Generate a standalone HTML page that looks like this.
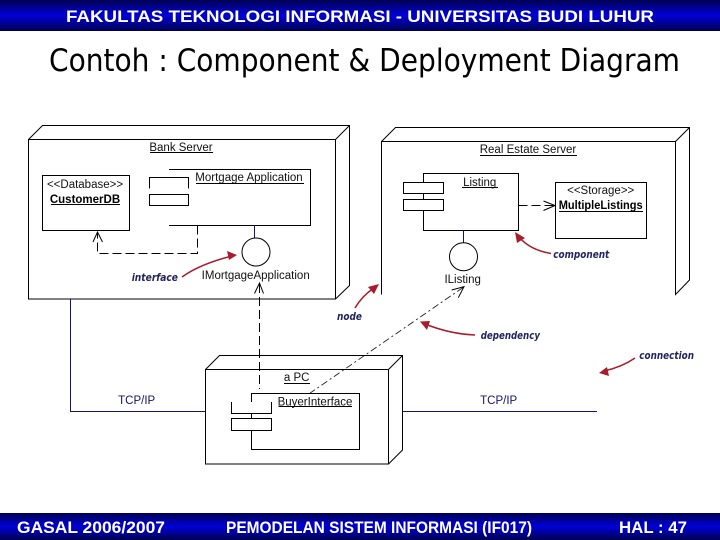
<!DOCTYPE html>
<html>
<head>
<meta charset="utf-8">
<style>
html,body{margin:0;padding:0;background:#fff;width:720px;height:540px;overflow:hidden}
svg{display:block}
.d{fill:none;stroke:#000;stroke-width:1}
.dash{fill:none;stroke:#000;stroke-width:1;stroke-dasharray:9 4}
.dash2{fill:none;stroke:#222;stroke-width:.9;stroke-dasharray:7 3 2 3}
.nv{fill:none;stroke:#14146e;stroke-width:1}
.t{font-family:"Liberation Sans",sans-serif;font-size:11.5px;fill:#111;text-anchor:middle}
.b{font-family:"Liberation Sans",sans-serif;font-size:11.5px;font-weight:bold;fill:#000;text-anchor:middle}
.c{font-family:"DejaVu Sans","Liberation Sans",sans-serif;font-size:10.5px;font-style:italic;font-weight:bold;fill:#23235f}
.r{fill:none;stroke:#a81c2c;stroke-width:1.5}
.h{font-family:"Liberation Sans",sans-serif;font-weight:bold;fill:#fff;font-size:16.5px}
</style>
</head>
<body>
<svg width="720" height="540" viewBox="0 0 720 540" xmlns="http://www.w3.org/2000/svg">
<defs>
<linearGradient id="g" x1="0" y1="0" x2="0" y2="1">
<stop offset="0" stop-color="#000050"/>
<stop offset=".5" stop-color="#0000d8"/>
<stop offset="1" stop-color="#000050"/>
</linearGradient>
</defs>
<rect x="0" y="0" width="720" height="31" fill="url(#g)"/>
<rect x="0" y="513" width="720" height="27" fill="url(#g)"/>
<text class="h" x="66" y="22" textLength="588" lengthAdjust="spacingAndGlyphs">FAKULTAS TEKNOLOGI INFORMASI - UNIVERSITAS BUDI LUHUR</text>
<text class="h" x="17" y="533" textLength="148" lengthAdjust="spacingAndGlyphs">GASAL 2006/2007</text>
<text class="h" x="226" y="533" textLength="306" lengthAdjust="spacingAndGlyphs">PEMODELAN SISTEM INFORMASI (IF017)</text>
<text class="h" x="619" y="533" textLength="68" lengthAdjust="spacingAndGlyphs">HAL : 47</text>
<text x="49" y="71" font-family="'DejaVu Sans','Liberation Sans',sans-serif" font-size="31" fill="#000" textLength="631" lengthAdjust="spacingAndGlyphs">Contoh : Component &amp; Deployment Diagram</text>

<!-- Bank Server -->
<rect class="d" x="28.5" y="139.5" width="307" height="159.5"/>
<path class="d" d="M28.5 139.5L42.5 125.5H349.5V285.5L335.5 299M335.5 139.5L349.5 125.5"/>
<text class="t" x="181" y="151">Bank Server</text>
<path class="d" d="M150 152.5H213"/>
<rect class="d" x="42.5" y="175.5" width="87" height="55"/>
<text class="t" x="85" y="188">&lt;&lt;Database&gt;&gt;</text>
<text class="b" x="85" y="203">CustomerDB</text>
<path class="d" d="M51 204.5H120"/>
<path class="d" d="M169 169.5H310.5V225.5H169"/>
<path class="d" d="M149.5 188.5V177.500H188.500V188.5"/>
<rect class="d" x="149.500" y="194.500" width="39" height="11"/>
<text class="t" x="249" y="181">Mortgage Application</text>
<path class="d" d="M196 183.500H304"/>
<path class="dash" d="M197.500 225.500V253.500H97.500V233"/>
<path class="d" d="M93 242L97.500 232L102.500 242"/>
<path class="nv" d="M254.500 225.500V238"/>
<circle class="d" cx="256" cy="252" r="14"/>
<text class="t" x="255.700" y="279">IMortgageApplication</text>
<path class="dash" d="M259.500 284V389"/>
<path class="d" d="M254.500 293.500L259.500 283L263.500 293.500"/>

<!-- connections -->
<path class="nv" d="M70.500 299V411.500H205.500"/>
<path class="nv" d="M403 411.500H597"/>
<text x="136.700" y="404" class="t" style="fill:#14146e">TCP/IP</text>
<text x="498.700" y="404" class="t" style="fill:#14146e">TCP/IP</text>

<!-- Real Estate -->
<path class="d" d="M381.500 294.500V141.500H675.500V294.500L689.500 280V127.500H395.500L381.500 141.500M675.500 141.500L689.500 127.500"/>
<text class="t" x="528" y="153">Real Estate Server</text>
<path class="d" d="M480 155.500H577"/>
<rect class="d" x="423.500" y="173.500" width="95" height="57"/>
<rect x="403.500" y="182.500" width="40" height="11" fill="#fff" stroke="#000"/>
<rect x="403.500" y="199.500" width="40" height="11" fill="#fff" stroke="#000"/>
<text class="t" x="479.700" y="186">Listing</text>
<path class="d" d="M462 187.500H498"/>
<rect class="d" x="555.500" y="182.500" width="91" height="56"/>
<text class="t" x="600.700" y="194">&lt;&lt;Storage&gt;&gt;</text>
<text class="b" x="600.700" y="209" textLength="84" lengthAdjust="spacingAndGlyphs">MultipleListings</text>
<path class="d" d="M559 211.500H643"/>
<path class="dash" d="M518.500 205.500H554"/>
<path class="d" d="M543.500 201L555 205.500L543.500 210.500"/>
<path class="nv" d="M463.500 230.500V243"/>
<circle class="d" cx="463.500" cy="256.700" r="14"/>
<text class="t" x="462.700" y="283">IListing</text>
<path class="dash2" d="M463 287.500L309.500 393.500"/>
<path class="d" d="M451.700 290L464 286.700L458.300 297.700"/>

<!-- PC -->
<rect class="d" x="205.500" y="369.500" width="183" height="94.500"/>
<path class="d" d="M205.500 369.500L219.500 355.500H402.500V411.500M388.500 369.500L402.500 355.500M388.500 464L402.500 450V411.500"/>
<text class="t" x="296.700" y="381">a PC</text>
<path class="d" d="M284 383.500H310"/>
<path class="d" d="M251.500 402V393.500H359.500V449.500H251.500V430.500M251.500 414V418.500"/>
<path class="d" d="M231.500 402V413.500H271.500V402"/>
<rect class="d" x="231.500" y="418.500" width="40" height="12"/>
<text class="t" x="315" y="405.500">BuyerInterface</text>
<path class="d" d="M278.500 406.500H352"/>

<!-- red annotation arrows -->
<path class="r" d="M182 277Q200 264 232 256"/>
<path d="M237 255L227 251L229 260Z" fill="#a81c2c"/>
<path class="r" d="M551 253.500Q530 250 519 237"/>
<path d="M515 232L517 243L525 238Z" fill="#a81c2c"/>
<path class="r" d="M355 308Q362 296 374 288"/>
<path d="M379 284L368 287L374 294Z" fill="#a81c2c"/>
<path class="r" d="M475 335Q450 334 425 324"/>
<path d="M420 321.500L427 330L430 321Z" fill="#a81c2c"/>
<path class="r" d="M635 358Q622 367 604 371"/>
<path d="M599 373L609 376L607 367Z" fill="#a81c2c"/>
<text class="c" x="131.700" y="281" textLength="46.300" lengthAdjust="spacingAndGlyphs">interface</text>
<text class="c" x="553.300" y="258" textLength="56" lengthAdjust="spacingAndGlyphs">component</text>
<text class="c" x="337" y="320" textLength="25" lengthAdjust="spacingAndGlyphs">node</text>
<text class="c" x="480.700" y="339" textLength="59.300" lengthAdjust="spacingAndGlyphs">dependency</text>
<text class="c" x="639.300" y="359" textLength="54.700" lengthAdjust="spacingAndGlyphs">connection</text>
</svg>
</body>
</html>
